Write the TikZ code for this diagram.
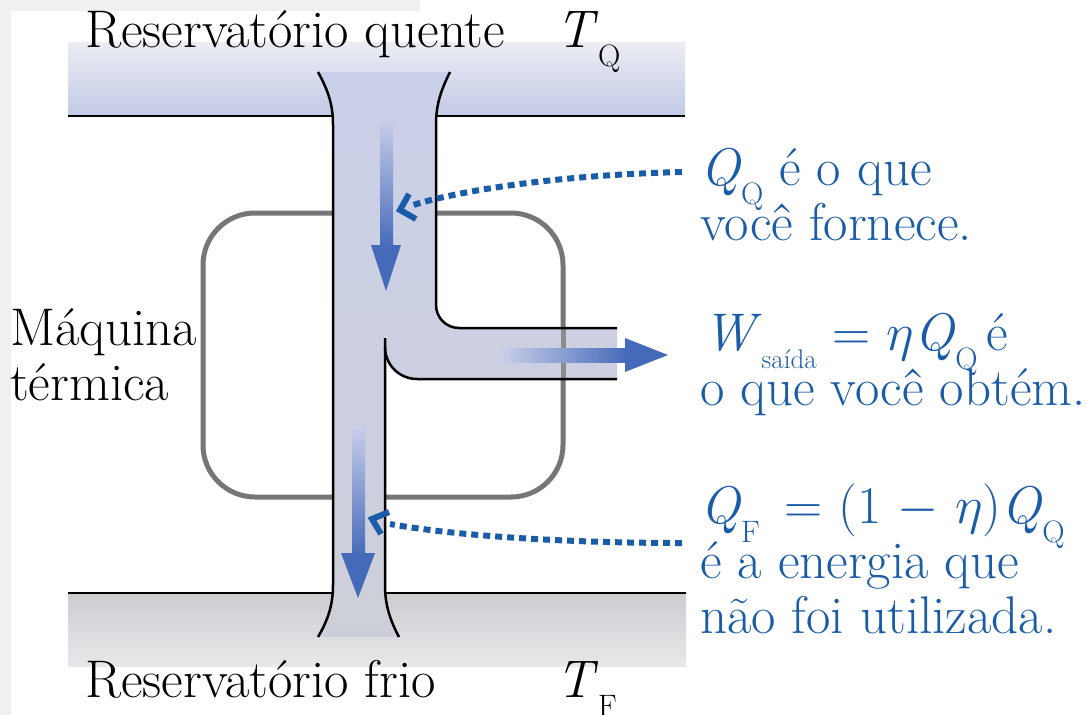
\documentclass[tikz,border=0pt]{standalone}
\usepackage{graphicx}
\usetikzlibrary{calc}
\definecolor{txtblue}{RGB}{27,92,168}
\definecolor{arrblue}{RGB}{70,106,186}
\definecolor{hottop}{RGB}{236,237,243}
\definecolor{hotbot}{RGB}{195,201,230}
\definecolor{coldtop}{RGB}{204,205,209}
\definecolor{coldbot}{RGB}{231,232,234}
\definecolor{chantop}{RGB}{203,208,234}
\definecolor{chanbot}{RGB}{205,207,216}
\definecolor{boxgray}{RGB}{118,118,118}
\definecolor{framegray}{RGB}{240,240,240}
\newcommand\sbs[1]{\raisebox{-19pt}{\fontsize{31}{31}\selectfont #1}}
\newcommand\sbsmall[1]{\raisebox{-18pt}{\fontsize{27}{27}\selectfont #1}}
\newcommand\myeta{\scalebox{2.13}{$\eta$}}
\newcommand\myminus{\scalebox{2.13}{$-$}}
\tikzset{
  lbl/.style={inner sep=0pt, anchor=base west, font=\fontsize{53}{58}\selectfont},
  blbl/.style={lbl, text=txtblue},
  edge/.style={black, line width=2.5pt},
  dotarrow/.style={txtblue, line width=6pt, dash pattern=on 7pt off 5pt},
  chevron/.style={txtblue, line width=6pt, line join=miter},
  headfill/.style={fill=arrblue, draw=none}
}
\begin{document}
\begin{tikzpicture}[x=1pt,y=-1pt]
\useasboundingbox (0,0) rectangle (1090,715);
\fill[white] (0,0) rectangle (1090,715);
\fill[framegray] (0,0) rectangle (11,715);
\fill[framegray] (0,0) rectangle (420,11);

% reservoirs
\shade[top color=hottop, bottom color=hotbot] (68,42) rectangle (685,116);
\shade[top color=coldtop, bottom color=coldbot] (68,593) rectangle (686,666);

% engine box
\draw[boxgray, line width=5pt, rounded corners=52pt] (203,213) rectangle (563,497);

% channel fill
\shade[top color=chantop, bottom color=chanbot]
  (318,72) .. controls (329,92) and (333,106) .. (333,125)
  -- (333,585) .. controls (333,605) and (328,620) .. (318,637)
  -- (399,637) .. controls (390,620) and (385,605) .. (385,585)
  -- (385,347) arc[start angle=180, end angle=90, radius=32]
  -- (617,379) -- (617,328) -- (459,328)
  arc[start angle=90, end angle=180, radius=23]
  -- (436,125) .. controls (436,106) and (440,92) .. (450,72) -- cycle;
% box edge seen through the work branch
\draw[boxgray!75!chanbot, line width=5pt] (563,328) -- (563,379);

% channel outlines
\draw[edge] (68,116) -- (333,116);
\draw[edge] (436,116) -- (685,116);
\draw[edge] (68,593) -- (333,593);
\draw[edge] (385,593) -- (686,593);
\draw[edge] (318,72) .. controls (329,92) and (333,106) .. (333,125)
  -- (333,585) .. controls (333,605) and (328,620) .. (318,637);
\draw[edge] (450,72) .. controls (440,92) and (436,106) .. (436,125)
  -- (436,305) arc[start angle=180, end angle=90, radius=23] -- (617,328);
\draw[edge] (617,379) -- (417,379) arc[start angle=90, end angle=180, radius=32];
\draw[edge] (385,338) -- (385,585) .. controls (385,605) and (390,620) .. (399,637);

% flow arrows
\shade[top color=chantop, bottom color=arrblue] (380,117) rectangle (393,248);
\fill[headfill] (371,245) -- (401,245) -- (386,291) -- cycle;
\shade[top color=chantop, bottom color=arrblue] (352,425) rectangle (365,556);
\fill[headfill] (341,553) -- (375,553) -- (358,598) -- cycle;
\shade[left color=chantop, right color=arrblue] (500,348) rectangle (627,362);
\fill[headfill] (625,338) -- (625,372) -- (668,355) -- cycle;

% labels
\node[lbl] (hot) at (85,47) {Reservatório quente};
\node[lbl] (tq) at (556,47) {\textit{T}\sbs{Q}};
\node[lbl] (cold) at (85,697) {Reservatório frio};
\node[lbl] (tf) at (556,697) {\textit{T}\sbs{F}};
\node[lbl] (maq1) at (10,345) {Máquina};
\node[lbl] (maq2) at (10,400) {térmica};

\node[blbl] (qq1) at (700,185) {\textit{Q}\sbs{Q} é o que};
\node[blbl] (qq2) at (700,240) {você fornece.};
\node[blbl] (w1) at (703,350) {\textit{W}\sbsmall{saída} = \myeta\textit{Q}\sbs{Q}\,é};
\node[blbl] (w2) at (700,405) {o que você obtém.};
\node[blbl] (qf1) at (700,523) {\textit{Q}\sbs{F}\, = (1 \myminus{} \myeta)\textit{Q}\sbs{Q}};
\node[blbl] (qf2) at (700,578) {é a energia que};
\node[blbl] (qf3) at (700,633) {não foi utilizada.};

% dotted pointers
\coordinate (p1s) at (682,172);
\coordinate (p1e) at (410,206);
\coordinate (p1t) at (400,210);
\draw[dotarrow] (p1s) .. controls (560,175) and (460,190) .. (p1e);
\draw[chevron] ($(p1t)+(16,9)$) -- (p1t) -- ($(p1t)+(9,-16)$);
\coordinate (p2s) at (682,543);
\coordinate (p2e) at (390,524);
\coordinate (p2t) at (372,519);
\draw[dotarrow] (p2s) .. controls (560,543) and (450,535) .. (p2e);
\draw[chevron] ($(p2t)+(17,-7)$) -- (p2t) -- ($(p2t)+(9,15)$);
\end{tikzpicture}
\end{document}
